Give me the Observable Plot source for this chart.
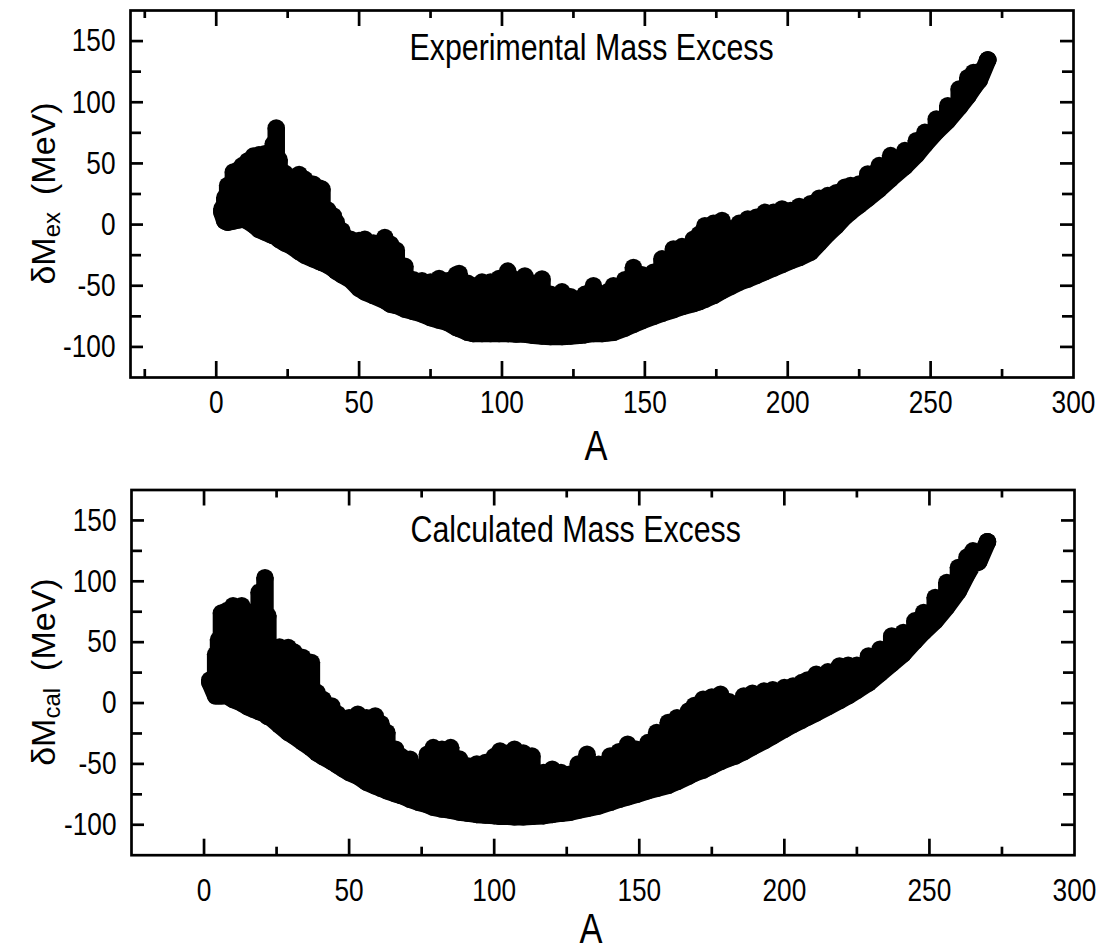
<!DOCTYPE html>
<html>
<head>
<meta charset="utf-8">
<script src="https://cdn.jsdelivr.net/npm/d3@7"></script>
<script src="https://cdn.jsdelivr.net/npm/@observablehq/plot@0.6"></script>
<style>
  html, body { margin: 0; background: #fff; }
  #chart { width: 1107px; height: 951px; }
  #chart svg { display: block; }
</style>
</head>
<body>
<div id="chart"></div>
<script>
// Mass excess of nuclei versus mass number A: for each A, the lowest and
// highest mass excess (MeV) among the nuclides of that mass number.

// Experimental mass excess
const expA    = [2,3,4,6,8,9,11,13,15,17,19,20,21,22,24,26,29,31,34,36,37,39,41,42,44,47,50,52,55,59,61,63,66,69,72,75,78,81,84,85,88,90,93,96,99,102,105,108,111,114,117,121,124,127,129,132,135,137,139,143,146,149,153,156,160,163,167,169,171,174,177,180,183,186,189,192,195,198,201,204,208,211,214,217,220,222,225,228,232,236,241,245,248,252,256,260,263,265,267,270];
const expLow  = [10,3,2,3,4,5,3,0,-4,-6,-8,-9,-10,-12,-15,-17,-22,-25,-28,-30,-31,-33,-36,-38,-41,-45,-52,-55,-58,-62,-65,-66,-69,-71,-73,-76,-78,-80,-84,-85,-88,-89,-89,-89,-89,-89,-89.5,-89.5,-90.5,-91,-91.5,-91.5,-91,-90.5,-90,-89,-89,-88.5,-88,-84.5,-81.5,-78.5,-75,-72.5,-69.5,-67,-64.5,-63,-61,-58,-54,-50.5,-47,-44.5,-41.5,-38.5,-35.5,-32.5,-29.5,-27,-22.5,-15,-7.5,-1,6.5,10.5,16,21.5,29,37.5,47.5,57,65.5,76,85,96,105,112,118,134.6];
const expHigh = [13,22,32,43,45,48,52,56,57,58,55,66,79,53,42,38,41,37,33,30,29,12,7,2,-5,-12,-13,-12,-15,-10.5,-16,-21,-34,-45,-46,-47,-44,-46,-41,-40,-48,-50,-47,-47,-44,-38,-45,-42,-48,-44.5,-57,-55,-59,-63.5,-57,-50,-58,-55,-50,-45,-35,-41,-39,-28,-20,-18,-12,-8,-1,1,3.3,-4,1,4.6,6,10,10,12.8,11.5,14.8,17,21.5,23.7,26,30.5,32,33.2,41.4,48.2,56.4,60.5,68.6,75.4,86.4,97.2,110.9,120,124.4,125,134.6];

// Calculated mass excess
const calA    = [2,4,5,6,8,10,13,15,17,19,21,22,23,26,29,31,34,37,39,41,44,46,48,50,53,56,59,61,63,66,68,71,74,77,79,82,85,88,91,94,97,100,102,105,107,110,113,117,120,123,126,129,132,136,140,143,146,149,153,156,160,163,167,169,172,175,178,181,183,186,189,193,196,200,203,206,208,211,215,219,222,225,229,233,237,241,245,248,252,256,260,263,265,267,270];
const calLow  = [17,6,6,6,6,3,0,-3,-5,-7,-9,-11,-12,-18,-24,-27,-32,-37,-41,-44,-48,-51,-54,-57,-60,-65,-68,-70,-72,-74.5,-76,-79,-81.5,-83.5,-85.5,-87,-88,-89.5,-90.5,-91.5,-92,-92.5,-93,-93,-93.5,-93.5,-93,-92.5,-91.5,-90.5,-89.7,-88,-86.5,-84.5,-81.5,-79,-77,-75,-72,-70,-67.5,-64.5,-60,-57.5,-55,-51.5,-48,-45,-43.5,-40,-36,-31,-27,-21.5,-17.5,-14,-11.5,-8,-3,2,6,10.5,16.5,24.5,32.5,40.5,51,58.5,67.5,79,92,106,114,116,132.5];
const calHigh = [19,40,52,74,76,80,80,75,73,91,103,71.7,47,46,45.6,42,37.4,33.3,8.6,3,-2.4,-9,-16,-12,-9.2,-12,-10.6,-17,-24.2,-38,-44,-46.2,-54,-42,-36.6,-38,-36.6,-46,-51.7,-50,-48.9,-44,-39.4,-41,-38,-41,-43.5,-57.1,-54.4,-57,-58.5,-50,-42.1,-50.3,-43.5,-40,-33.9,-38,-32.5,-24.2,-16,-12,-6.5,-2,3.1,5,7.2,1,-2.4,5.8,8,9.9,11,12.7,14,16.8,19,23.7,25.6,30.5,31,31.1,38.7,44.2,55.1,57.9,67.5,74.4,86.7,99,111.3,120,125,121,132.5];

// Axis ticks and labels
const xMajorTicks = [0, 50, 100, 150, 200, 250, 300];
const xMinorTicks = [-25, 25, 75, 125, 175, 225, 275];
const yMajorTicks = [-100, -50, 0, 50, 100, 150];
const yMinorTicks = [-75, -25, 25, 75, 125];
const yDomain = [-125, 175];

const SANS = "'Liberation Sans', Arial, Helvetica, sans-serif";
const NARROW_SCALE = 0.82;   // horizontal squeeze giving a narrow sans face
const DOT = 17.5;            // marker diameter in px
const LINE = 2.7;            // frame and tick stroke width

function panel(cfg) {
  const rows = cfg.A.map((a, i) => ({A: a, low: cfg.low[i], high: cfg.high[i]}));
  const [x0, x1] = cfg.xDomain;
  const [y0, y1] = yDomain;
  const inX = (t) => t > x0 && t < x1;
  const inY = (t) => t > y0 && t < y1;
  const xMaj = xMajorTicks.filter(inX), xMin = xMinorTicks.filter(inX);
  const yMaj = yMajorTicks.filter(inY), yMin = yMinorTicks.filter(inY);
  const tick = {stroke: "black", strokeWidth: LINE};

  const svg = Plot.plot({
    width: cfg.width,
    height: cfg.height,
    marginLeft: cfg.marginLeft,
    marginRight: cfg.marginRight,
    marginTop: cfg.marginTop,
    marginBottom: cfg.marginBottom,
    x: {domain: cfg.xDomain, axis: null},
    y: {domain: yDomain, axis: null},
    style: {background: "white"},
    marks: [
      // nuclide cloud: each column spans lowest..highest value for that A
      Plot.ruleX(rows, {x: "A", y1: "low", y2: "high", stroke: "black", strokeWidth: DOT}),
      Plot.line(rows, {x: "A", y: "low", stroke: "black", strokeWidth: DOT, strokeLinejoin: "round", strokeLinecap: "round"}),
      Plot.dot(rows, {x: "A", y: "high", r: DOT / 2, fill: "black"}),
      Plot.dot(rows, {x: "A", y: "low", r: DOT / 2, fill: "black"}),

      // inward ticks on all four sides
      Plot.ruleX(xMaj, {x: d => d, y1: y0, y2: y0, insetTop: -16, ...tick}),
      Plot.ruleX(xMin, {x: d => d, y1: y0, y2: y0, insetTop: -8, ...tick}),
      Plot.ruleX(xMaj, {x: d => d, y1: y1, y2: y1, insetBottom: -16, ...tick}),
      Plot.ruleX(xMin, {x: d => d, y1: y1, y2: y1, insetBottom: -8, ...tick}),
      Plot.ruleY(yMaj, {y: d => d, x1: x0, x2: x0, insetRight: -13, ...tick}),
      Plot.ruleY(yMin, {y: d => d, x1: x0, x2: x0, insetRight: -11, ...tick}),
      Plot.ruleY(yMaj, {y: d => d, x1: x1, x2: x1, insetLeft: -13, ...tick}),
      Plot.ruleY(yMin, {y: d => d, x1: x1, x2: x1, insetLeft: -11, ...tick}),
      Plot.frame({stroke: "black", strokeWidth: LINE}),

      // tick labels
      Plot.text(xMajorTicks, {x: d => d, y: y0, text: d => String(d), lineAnchor: "top", dy: cfg.xLabelGap,
        fontSize: 32, fontFamily: SANS, fill: "black"}),
      Plot.text(yMajorTicks, {x: x0, y: d => d, text: d => String(d), textAnchor: "end", dx: -15,
        fontSize: 32, fontFamily: SANS, fill: "black"}),

      // panel title and x-axis name
      Plot.text([cfg.title], {frameAnchor: "top-left", textAnchor: "start", lineAnchor: "top",
        dx: cfg.titleDx, dy: cfg.titleDy, fontSize: 37, fontFamily: SANS, fill: "black"}),
      Plot.text(["A"], {frameAnchor: "bottom", lineAnchor: "top", dx: cfg.aDx, dy: cfg.aDy,
        fontSize: 42, fontFamily: SANS, fill: "black"})
    ]
  });

  // squeeze every label horizontally about its own anchor point
  d3.select(svg).selectAll("text").each(function () {
    const tr = this.getAttribute("transform") || "";
    this.setAttribute("transform", `${tr} scale(${NARROW_SCALE},1)`);
  });

  // rotated y-axis name with subscript
  const cy = cfg.marginTop + (cfg.height - cfg.marginTop - cfg.marginBottom) / 2;
  const t = d3.select(svg).append("text")
    .attr("transform", `translate(55,${cy}) rotate(-90)`)
    .attr("text-anchor", "middle")
    .attr("font-family", SANS)
    .attr("font-size", 34)
    .attr("fill", "black");
  t.append("tspan").text("\u03B4M");
  t.append("tspan").attr("font-size", 24).attr("dy", 5).text(cfg.sub);
  t.append("tspan").attr("dy", -5).text("\u2002(MeV)");
  return svg;
}

const chart = document.getElementById("chart");
chart.append(panel({
  A: expA, low: expLow, high: expHigh,
  xDomain: [-30, 300],
  title: "Experimental Mass Excess", sub: "ex",
  width: 1107, height: 478,
  marginLeft: 130, marginRight: 34, marginTop: 10, marginBottom: 101,
  xLabelGap: 13, titleDx: 279, titleDy: 23, aDx: -6, aDy: 53
}));
chart.append(panel({
  A: calA, low: calLow, high: calHigh,
  xDomain: [-25, 300],
  title: "Calculated Mass Excess", sub: "cal",
  width: 1107, height: 473,
  marginLeft: 131, marginRight: 33, marginTop: 11.5, marginBottom: 96.3,
  xLabelGap: 23, titleDx: 279, titleDy: 25.5, aDx: -12, aDy: 58
}));
</script>
</body>
</html>
